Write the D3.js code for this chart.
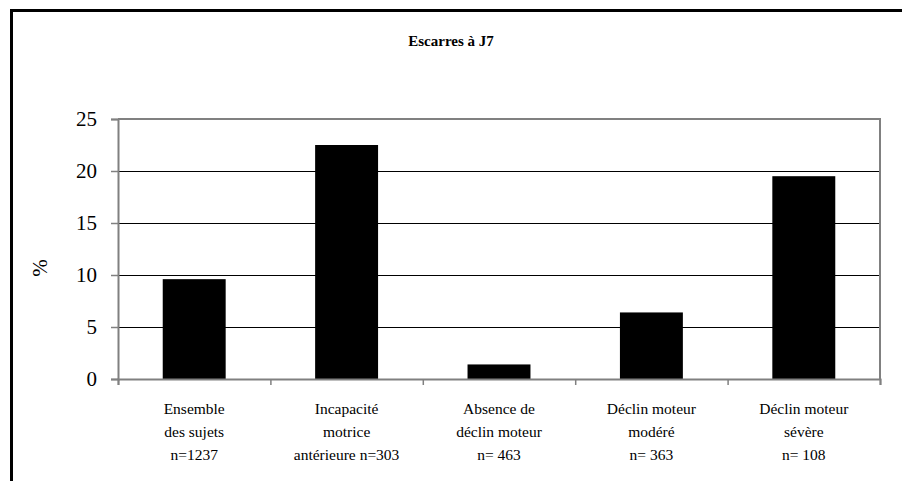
<!DOCTYPE html>
<html><head><meta charset="utf-8">
<script src="https://cdn.jsdelivr.net/npm/d3@7"></script>
<style>body{margin:0;background:#fff;font-family:"Liberation Serif",serif}#wrap{width:902px;height:481px;overflow:hidden}</style>
</head><body>
<div id="wrap"></div>
<script>
const categories = [
  ["Ensemble", "des sujets", "n=1237"],
  ["Incapacité", "motrice", "antérieure n=303"],
  ["Absence de", "déclin moteur", "n= 463"],
  ["Déclin moteur", "modéré", "n= 363"],
  ["Déclin moteur", "sévère", "n= 108"]
];
const values = [9.6, 22.5, 1.4, 6.4, 19.5];
const yTicks = [0, 5, 10, 15, 20, 25];
const title = "Escarres à J7";
const yLabel = "%";

const svg = d3.select("#wrap").append("svg").attr("width", 902).attr("height", 481)
  .attr("font-family", "Liberation Serif");
const L = 118, R = 880, T = 119, B = 379;

svg.append("rect").attr("x", 11.5).attr("y", 10.5).attr("width", 900).attr("height", 480)
  .attr("fill", "none").attr("stroke", "#000").attr("stroke-width", 3);

const x = d3.scaleBand().domain(d3.range(categories.length)).range([L, R])
  .paddingInner(0.587).paddingOuter(0.2935);
const y = d3.scaleLinear().domain([0, 25]).range([B, T]);

// gridlines
svg.append("g").selectAll("line").data(yTicks.filter(d => d > 0 && d < 25)).join("line")
  .attr("x1", L).attr("x2", R).attr("y1", d => Math.round(y(d)) + 0.5).attr("y2", d => Math.round(y(d)) + 0.5)
  .attr("stroke", "#000").attr("stroke-width", 1);

// plot border top/right
svg.append("path").attr("d", `M${L},${T}H${R}V${B}`).attr("fill", "none")
  .attr("stroke", "#808080").attr("stroke-width", 2);

// bars
svg.append("g").selectAll("rect").data(values).join("rect")
  .attr("x", (d, i) => x(i)).attr("width", x.bandwidth())
  .attr("y", d => y(d)).attr("height", d => B - y(d))
  .attr("fill", "#000");

// y axis
const yAxis = svg.append("g").attr("transform", `translate(${L},0)`)
  .call(d3.axisLeft(y).tickValues(yTicks).tickSize(7).tickPadding(14));
yAxis.attr("font-family", "Liberation Serif").attr("font-size", 21);
yAxis.select(".domain").attr("stroke", "#808080").attr("stroke-width", 2);
yAxis.selectAll(".tick line").attr("stroke", "#808080").attr("stroke-width", 1.5);
yAxis.selectAll("text").attr("fill", "#000");

// x axis
const xs = d3.scaleLinear().domain([0, categories.length]).range([L, R]);
const xAxis = svg.append("g").attr("transform", `translate(0,${B})`)
  .call(d3.axisBottom(xs).tickValues(d3.range(categories.length + 1)).tickSize(6).tickFormat(""));
xAxis.select(".domain").attr("stroke", "#808080").attr("stroke-width", 2);
xAxis.selectAll(".tick line").attr("stroke", "#808080").attr("stroke-width", 1.5);

// category labels
const lab = svg.append("g").attr("text-anchor", "middle").attr("font-family", "Liberation Serif").attr("font-size", 15.5);
categories.forEach((c, i) => {
  const cx = x(i) + x.bandwidth() / 2;
  c.forEach((line, j) => {
    lab.append("text").attr("x", cx).attr("y", 414 + j * 23).text(line);
  });
});

// title
svg.append("text").attr("x", 451).attr("y", 46).attr("text-anchor", "middle")
  .attr("font-family", "Liberation Serif").attr("font-weight", "bold").attr("font-size", 15).text(title);

// y label
svg.append("text").attr("transform", "translate(47,268) rotate(-90)").attr("text-anchor", "middle")
  .attr("font-family", "Liberation Serif").attr("font-size", 21).text(yLabel);
</script>
</body></html>
